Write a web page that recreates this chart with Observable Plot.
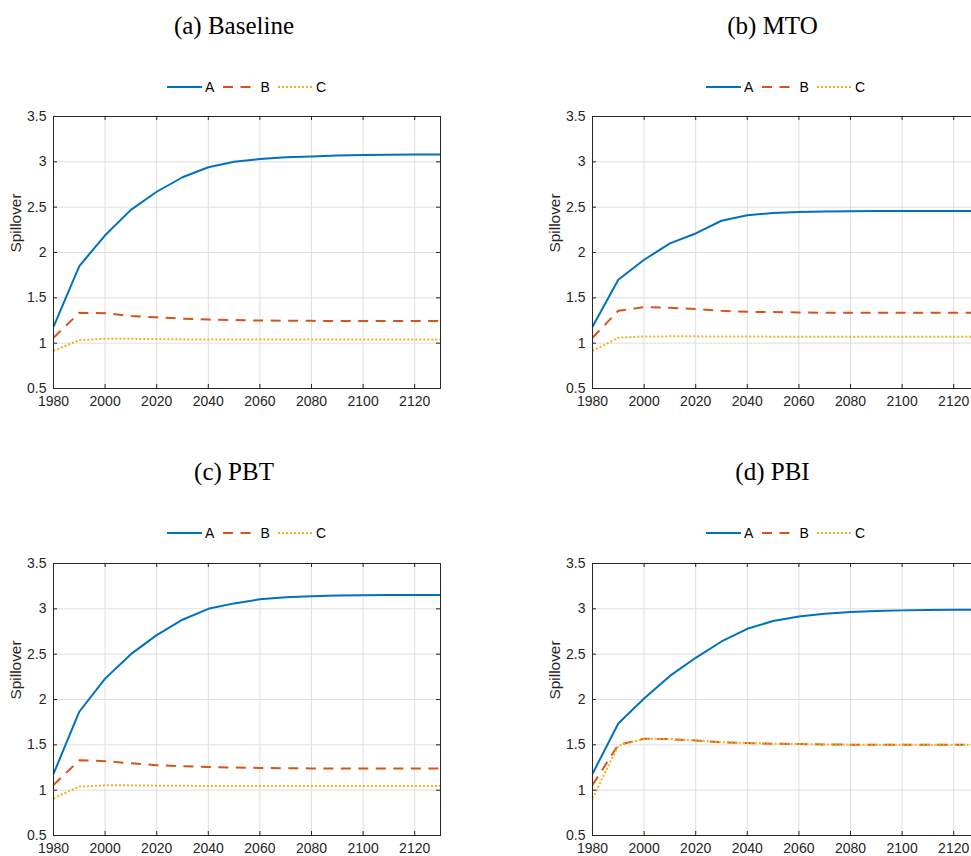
<!DOCTYPE html>
<html>
<head>
<meta charset="utf-8">
<script src="https://cdn.jsdelivr.net/npm/d3@7"></script>
<script src="https://cdn.jsdelivr.net/npm/@observablehq/plot@0.6"></script>
<style>
  html, body { margin: 0; padding: 0; background: #fff; width: 971px; height: 856px; overflow: hidden; position: relative; }
  .title { position: absolute; font-family: "Liberation Serif", "Times New Roman", serif; font-size: 25px; color: #000; white-space: nowrap; transform: translateX(-50%); line-height: 1; }
  .legend { position: absolute; display: flex; align-items: center; font-family: "Liberation Sans", Arial, sans-serif; font-size: 14px; color: #000; line-height: 1; }
  .legend .item { display: flex; align-items: center; width: 55.5px; }
  .legend svg { display: block; }
  .legend span { margin-left: 3px; }
  .panel { position: absolute; }
</style>
</head>
<body>
<script>
// ---- data ----
const years = [1980,1990,2000,2010,2020,2030,2040,2050,2060,2070,2080,2090,2100,2110,2120,2130];
const xTicks = [1980,2000,2020,2040,2060,2080,2100,2120];
const yTicks = [0.5,1,1.5,2,2.5,3,3.5];
const seriesNames = ["A","B","C"];
const panelTitles = ["(a) Baseline","(b) MTO","(c) PBT","(d) PBI"];

const baselineA = [1.18,1.85,2.19,2.47,2.67,2.83,2.94,3.00,3.03,3.05,3.06,3.07,3.075,3.077,3.08,3.08];
const baselineB = [1.06,1.335,1.33,1.30,1.285,1.27,1.26,1.255,1.25,1.247,1.246,1.245,1.245,1.245,1.245,1.245];
const baselineC = [0.915,1.033,1.048,1.048,1.045,1.042,1.04,1.04,1.04,1.04,1.04,1.04,1.04,1.04,1.04,1.04];

const mtoA = [1.18,1.70,1.92,2.10,2.21,2.35,2.41,2.435,2.447,2.453,2.456,2.458,2.458,2.458,2.458,2.458];
const mtoB = [1.06,1.357,1.398,1.39,1.376,1.357,1.346,1.343,1.339,1.336,1.335,1.335,1.335,1.335,1.335,1.335];
const mtoC = [0.915,1.06,1.074,1.075,1.075,1.074,1.073,1.072,1.072,1.072,1.072,1.072,1.072,1.072,1.072,1.072];

const pbtA = [1.18,1.865,2.23,2.50,2.71,2.88,3.0,3.06,3.105,3.127,3.14,3.146,3.15,3.152,3.153,3.153];
const pbtB = [1.057,1.33,1.32,1.297,1.275,1.264,1.256,1.25,1.245,1.242,1.24,1.24,1.24,1.24,1.24,1.24];
const pbtC = [0.91,1.04,1.053,1.053,1.05,1.048,1.046,1.046,1.046,1.046,1.046,1.046,1.046,1.046,1.046,1.046];

const pbiA = [1.18,1.736,2.01,2.26,2.46,2.64,2.78,2.865,2.915,2.945,2.965,2.976,2.983,2.986,2.99,2.99];
const pbiB = [1.057,1.5,1.567,1.563,1.548,1.527,1.52,1.513,1.509,1.505,1.502,1.502,1.501,1.5,1.5,1.5];
const pbiC = [0.91,1.49,1.567,1.565,1.55,1.53,1.52,1.513,1.509,1.505,1.502,1.502,1.501,1.5,1.5,1.5];

const panelData = [
  [baselineA, baselineB, baselineC],
  [mtoA, mtoB, mtoC],
  [pbtA, pbtB, pbtC],
  [pbiA, pbiB, pbiC]
];

// ---- styles ----
const colors = ["#0072BD", "#D95319", "#EDB120"];
const dashes = [null, "10,7.5", "2,2"];
const axisColor = "#262626";
const gridColor = "#dfdfdf";

const ML = 53, MR = 10, MT = 10, MB = 30;
const innerW = 387, innerH = 272;
const W = ML + innerW + MR, H = MT + innerH + MB;

// panel placements (left, top of svg), title center & top, legend left/top
const layout = [
  {left: 0,   top: 106, titleX: 234,   titleY: 13,  legX: 167, legY: 80},
  {left: 539, top: 106, titleX: 772.5, titleY: 13,  legX: 706, legY: 80},
  {left: 0,   top: 553, titleX: 234,   titleY: 459, legX: 167, legY: 526},
  {left: 539, top: 553, titleX: 772.5, titleY: 459, legX: 706, legY: 526}
];

function makePanel(p) {
  const [A, B, C] = panelData[p];
  const series = [A, B, C];
  const marks = [
    Plot.gridX(xTicks, {stroke: gridColor, strokeOpacity: 1}),
    Plot.gridY(yTicks, {stroke: gridColor, strokeOpacity: 1})
  ];
  series.forEach((vals, si) => {
    const rows = years.map((yr, i) => ({year: yr, value: vals[i], name: seriesNames[si]}));
    marks.push(Plot.line(rows, {
      x: "year", y: "value", stroke: colors[si], strokeWidth: 2,
      strokeDasharray: dashes[si] || undefined, strokeLinejoin: "round", strokeLinecap: "butt"
    }));
  });
  marks.push(
    Plot.frame({stroke: axisColor, strokeWidth: 1}),
    Plot.tickX(xTicks, {x: d => d, stroke: axisColor, insetTop: innerH - 4}),
    Plot.tickX(xTicks, {x: d => d, stroke: axisColor, insetBottom: innerH - 4}),
    Plot.tickY(yTicks, {y: d => d, stroke: axisColor, insetRight: innerW - 4}),
    Plot.tickY(yTicks, {y: d => d, stroke: axisColor, insetLeft: innerW - 4}),
    Plot.axisX({ticks: xTicks, tickSize: 0, tickPadding: 8, tickFormat: d => String(d), label: null, fontSize: 14}),
    Plot.axisY({ticks: yTicks, tickSize: 0, tickPadding: 7, tickFormat: d => String(d), label: null, fontSize: 14}),
    Plot.text(["Spillover"], {frameAnchor: "left", text: d => d, rotate: -90, dx: -37, fontSize: 15.4, fill: axisColor})
  );
  const svg = Plot.plot({
    width: W, height: H,
    marginLeft: ML, marginRight: MR, marginTop: MT, marginBottom: MB,
    x: {domain: [1980, 2130]},
    y: {domain: [0.5, 3.5]},
    style: {fontFamily: "'Liberation Sans', Arial, sans-serif", fontSize: "14px", color: axisColor, background: "transparent", overflow: "visible"},
    marks
  });
  svg.classList.add("panel");
  svg.style.left = layout[p].left + "px";
  svg.style.top = layout[p].top + "px";
  svg.style.position = "absolute";
  document.body.appendChild(svg);

  const t = document.createElement("div");
  t.className = "title";
  t.textContent = panelTitles[p];
  t.style.left = layout[p].titleX + "px";
  t.style.top = layout[p].titleY + "px";
  document.body.appendChild(t);

  const leg = document.createElement("div");
  leg.className = "legend";
  leg.style.left = layout[p].legX + "px";
  leg.style.top = layout[p].legY + "px";
  seriesNames.forEach((n, si) => {
    const item = document.createElement("div");
    item.className = "item";
    const ns = "http://www.w3.org/2000/svg";
    const s = document.createElementNS(ns, "svg");
    s.setAttribute("width", 35); s.setAttribute("height", 14);
    const ln = document.createElementNS(ns, "line");
    ln.setAttribute("x1", 0); ln.setAttribute("x2", 35);
    ln.setAttribute("y1", 7); ln.setAttribute("y2", 7);
    ln.setAttribute("stroke", colors[si]); ln.setAttribute("stroke-width", 2);
    if (dashes[si]) ln.setAttribute("stroke-dasharray", dashes[si]);
    s.appendChild(ln);
    const sp = document.createElement("span");
    sp.textContent = n;
    item.appendChild(s); item.appendChild(sp);
    leg.appendChild(item);
  });
  document.body.appendChild(leg);
}

for (let p = 0; p < 4; p++) makePanel(p);
</script>
</body>
</html>
